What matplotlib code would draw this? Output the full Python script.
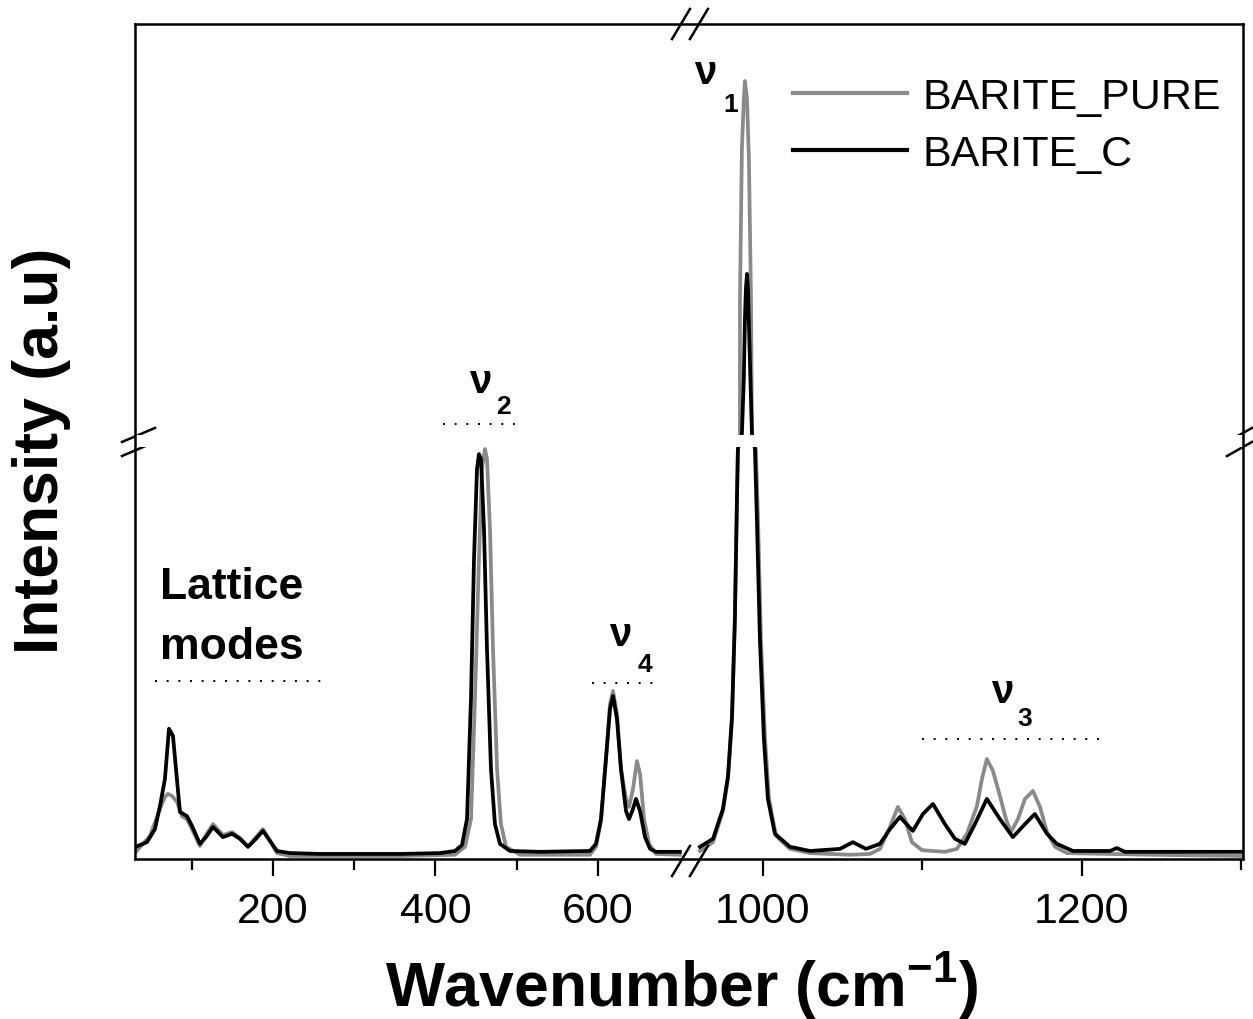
import numpy as np
import matplotlib
matplotlib.use('Agg')
import matplotlib.pyplot as plt

plt.rcParams['font.family'] = ['Liberation Sans', 'DejaVu Sans']
plt.rcParams['mathtext.fontset'] = 'custom'
plt.rcParams['mathtext.rm'] = 'Liberation Sans:bold'
plt.rcParams['mathtext.bf'] = 'Liberation Sans:bold'
plt.rcParams['mathtext.default'] = 'bf'

# Raman spectra: wavenumber (cm-1) and intensity (a.u)
# low range (lattice, v2, v4)
pure_lo_x = [31, 48.5, 60.8, 66.9, 70.6, 75.6, 81.7, 87.9, 94.0, 100.2, 110.0, 117.4, 126.1, 138.4,
             149.5, 159.3, 169.2, 179.0, 187.6, 196.3, 204.9, 220.9, 356.4, 424.1, 436.4, 443.8,
             448.7, 453.6, 457.3, 461.0, 463.5, 467.2, 470.9, 475.9, 480.7, 486.9, 504.1, 590.3,
             597.7, 603.9, 610.0, 615.0, 618.7, 623.6, 628.5, 634.7, 638.4, 643.3, 648.2, 652.0,
             656.9, 663.1, 671.6, 701]
pure_lo_y = [17, 55, 119, 148, 155, 150, 136, 102, 95, 71, 31, 57, 83, 57,
             64, 50, 29, 52, 71, 43, 14, 7, 7, 10, 29, 95,
             381, 714, 929, 976, 952, 786, 500, 214, 83, 29, 10, 10,
             29, 90, 238, 369, 400, 345, 214, 143, 124, 167, 233, 202,
             95, 36, 12, 10]
c_lo_x = [31, 44.8, 54.6, 60.8, 66.9, 71.9, 76.8, 81.7, 85.4, 94.0, 100.2, 110.0, 117.4, 126.1,
          138.4, 149.5, 159.3, 169.2, 179.0, 187.6, 196.3, 204.9, 220.9, 257.8, 356.4, 405.6,
          424.1, 432.7, 438.9, 443.8, 447.5, 451.2, 453.6, 456.1, 459.8, 463.5, 468.4, 473.3,
          479.5, 491.8, 528.8, 590.3, 597.7, 603.9, 610.0, 615.0, 618.7, 623.6, 628.5, 634.7,
          638.4, 643.3, 647.0, 652.0, 658.1, 664.3, 671.6, 701]
c_lo_y = [29, 40, 71, 126, 190, 310, 293, 190, 112, 102, 79, 36, 52, 76,
          52, 60, 48, 29, 48, 67, 43, 19, 14, 12, 12, 14,
          19, 33, 95, 381, 714, 929, 964, 952, 786, 500, 214, 83,
          36, 19, 17, 19, 36, 95, 238, 357, 388, 333, 214, 114,
          95, 119, 143, 114, 52, 24, 17, 17]

# high range (v1, v3)
pure_hi_x = [960.5, 968.7, 974.9, 978.1, 980.6, 982.4, 983.7, 984.3, 985.6, 985.6, 986.8, 988.0,
             988.7, 990.0, 991.2, 992.5, 993.1, 995.6, 996.9, 998.7, 1001.3, 1003.8, 1008.2,
             1016.9, 1029.5, 1054.5, 1067.1, 1073.4, 1079.6, 1084.6, 1089.0, 1093.4, 1099.7,
             1106.6, 1114.1, 1121.6, 1127.9, 1134.2, 1137.3, 1140.4, 1144.2, 1148.6, 1152.4,
             1155.5, 1159.9, 1164.3, 1169.3, 1173.7, 1178.1, 1183.1, 1190.6, 1242.6, 1301]
pure_hi_y = [19, 40, 114, 190, 333, 571, 857, 976, 1036, 2012, 3096, 3458,
             3588, 3458, 3024, 2012, 1036, 976, 810, 524, 286, 143, 55,
             24, 14, 10, 12, 24, 76, 124, 95, 40, 21,
             19, 17, 24, 60, 126, 190, 238, 210, 150, 95,
             64, 95, 143, 162, 124, 64, 29, 14, 10, 7]
c_hi_x = [960.5, 968.7, 974.9, 978.1, 980.6, 982.4, 983.7, 984.3, 986.8, 988.0, 988.7, 989.3,
          990.0, 990.6, 991.8, 993.1, 995.0, 996.2, 998.1, 1000.6, 1003.1, 1007.5, 1016.9,
          1029.5, 1048.3, 1056.4, 1064.6, 1073.4, 1079.6, 1085.9, 1094.0, 1100.3, 1106.6,
          1114.1, 1120.4, 1126.6, 1132.9, 1140.4, 1148.6, 1156.7, 1164.3, 1170.5, 1178.1,
          1184.3, 1194.4, 1217.6, 1221.9, 1227.0, 1301]
c_hi_y = [29, 48, 119, 198, 340, 571, 857, 976, 1036, 1434, 1867, 2084,
          2193, 2084, 1578, 1036, 976, 810, 524, 286, 143, 60, 29,
          19, 24, 40, 24, 36, 71, 100, 67, 107, 131,
          83, 48, 36, 83, 143, 95, 52, 83, 107, 60,
          36, 19, 19, 26, 17, 17]

major_ticks = [200, 400, 600, 1000, 1200]
minor_ticks = [100, 300, 500, 1100, 1300]

# broken axes done as piecewise linear scales
x_brk = [30, 702, 958, 1301]
x_pix = [0, 545.7, 561, 1108]
y_brk = [0, 1000, 4000]
y_pix = [0, 420, 835]


def piecewise(v, xp, fp):
    v = np.asarray(v, float)
    out = np.interp(v, xp, fp)
    out = np.where(v < xp[0], fp[0] + (v - xp[0]) * (fp[1] - fp[0]) / (xp[1] - xp[0]), out)
    out = np.where(v > xp[-1], fp[-1] + (v - xp[-1]) * (fp[-1] - fp[-2]) / (xp[-1] - xp[-2]), out)
    return out


fig = plt.figure(figsize=(12.53, 10.20), dpi=100)
ax = fig.add_axes([0.1077, 0.1569, 0.8843, 0.8186])
ax.set_xscale('function', functions=(lambda v: piecewise(v, x_brk, x_pix),
                                      lambda v: piecewise(v, x_pix, x_brk)))
ax.set_yscale('function', functions=(lambda v: piecewise(v, y_brk, y_pix),
                                      lambda v: piecewise(v, y_pix, y_brk)))

grey = '#8a8a8a'
ax.plot(pure_lo_x, pure_lo_y, color=grey, lw=2.7, label='BARITE_PURE')
ax.plot(pure_hi_x, pure_hi_y, color=grey, lw=2.7)
ax.plot(c_lo_x, c_lo_y, color='black', lw=2.7, label='BARITE_C')
ax.plot(c_hi_x, c_hi_y, color='black', lw=2.7)

# gap of the y break
ax.axhspan(982, 1030, color='white', zorder=2.2, lw=0)

ax.set_xlim(30, 1301)
ax.set_ylim(0, 4000)
ax.set_xticks(major_ticks)
ax.set_xticks(minor_ticks, minor=True)
ax.set_yticks([])
ax.tick_params(axis='x', which='major', direction='out', length=12, width=1.6,
               labelsize=31, pad=11)
ax.tick_params(axis='x', which='minor', direction='out', length=8, width=1.6)
for s in ax.spines.values():
    s.set_linewidth(1.8)

ax.set_xlabel('Wavenumber (cm$^{-1}$)', fontsize=45, fontweight='bold')
ax.xaxis.set_label_coords(0.493, -0.108)
ax.set_ylabel('Intensity (a.u)', fontsize=45, fontweight='bold')
ax.yaxis.set_label_coords(-0.058, 0.49)

leg = ax.legend(loc='upper left', bbox_to_anchor=(0.594, 0.937), frameon=False,
                fontsize=31, handlelength=2.65, handletextpad=0.35, labelspacing=0.4,
                borderaxespad=0, borderpad=0)
for h in leg.get_lines():
    h.set_linewidth(3)

# band labels
txt = dict(fontweight='bold', ha='center', va='center')
ax.text(964, 3650, 'ν', fontsize=29, **txt)
ax.text(980, 3420, '1', fontsize=19, **txt)
ax.text(455, 1420, 'ν', fontsize=29, **txt)
ax.text(484, 1240, '2', fontsize=19, **txt)
ax.text(627, 535, 'ν', fontsize=29, **txt)
ax.text(658, 465, '4', fontsize=19, **txt)
ax.text(1150, 400, 'ν', fontsize=29, **txt)
ax.text(1164, 336, '3', fontsize=19, **txt)
ax.text(60.8, 648, 'Lattice', fontsize=32, fontweight='bold', ha='left', va='center')
ax.text(60.8, 505, 'modes', fontsize=32, fontweight='bold', ha='left', va='center')

dots = dict(colors='black', linestyles=(0, (1, 5)), lw=1.4)
ax.hlines(1108, 409.3, 507.8, **dots)
ax.hlines(424, 54.6, 260.3, **dots)
ax.hlines(419, 592.8, 676.6, **dots)
ax.hlines(286, 1099.7, 1213.2, **dots)

# break marks on the frame
brk = dict(transform=ax.transAxes, color='black', lw=1.8, clip_on=False)
for dx in (0, 0.0162):
    ax.plot([0.4847 + dx, 0.5009 + dx], [-0.0204, 0.0156], **brk)
    ax.plot([0.4847 + dx, 0.5009 + dx], [0.982, 1.018], **brk)
for dy in (0, -0.0168):
    ax.plot([-0.0117, 0.0181], [0.4994 + dy, 0.5162 + dy], **brk)
    ax.plot([0.9856, 1.0081], [0.4994 + dy, 0.5162 + dy], **brk)

fig.savefig('out.png', dpi=100)
